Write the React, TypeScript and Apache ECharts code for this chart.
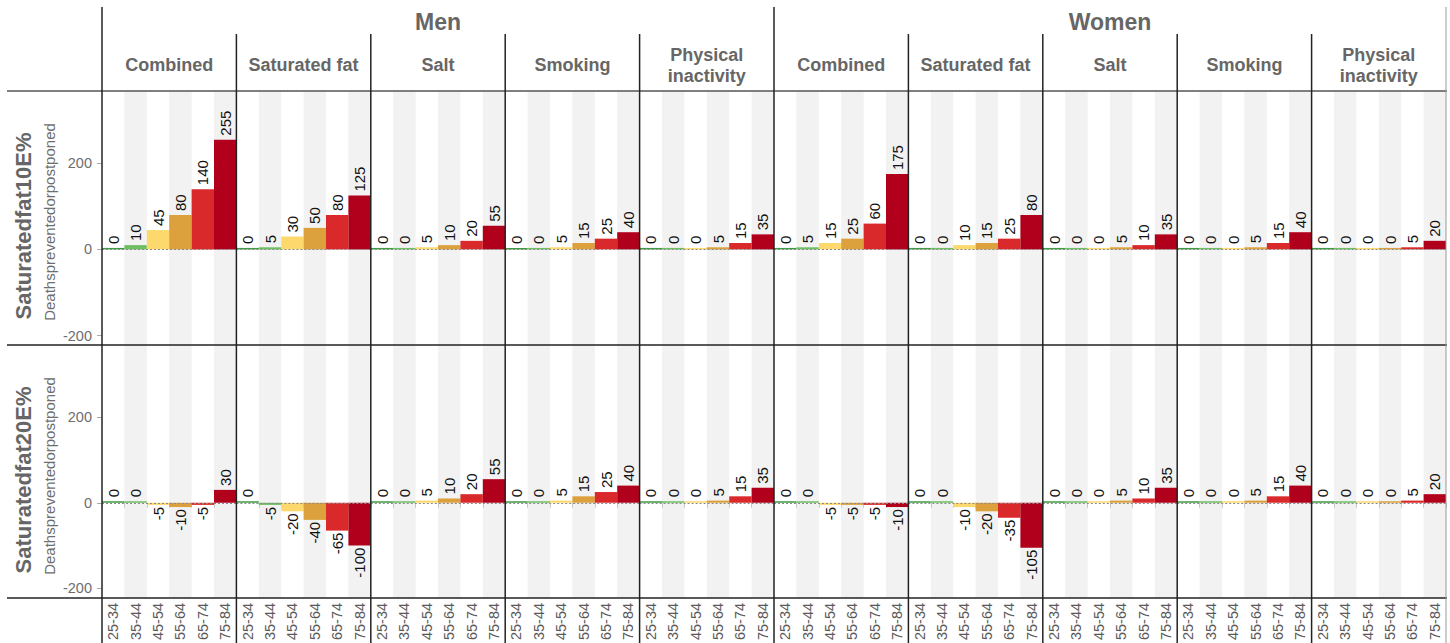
import React, { useEffect, useRef } from "react";
import * as echarts from "echarts";

const ages = ["25-34", "35-44", "45-54", "55-64", "65-74", "75-84"];
const sexes = ["Men", "Women"];
const factors = ["Combined", "Saturated fat", "Salt", "Smoking", "Physical\ninactivity"];
const scenarios = ["Saturatedfat10E%", "Saturatedfat20E%"];
const yAxisTitle = "Deathspreventedorpostponed";
const yTicks = [-200, 0, 200];
const ageColors = ["#3b9b40", "#6dbe60", "#fdd96d", "#dca13c", "#da292b", "#b1001c"];

// rows: factor (Combined, Saturated fat, Salt, Smoking, Physical inactivity), cols: age group
const fat10Men = [
  [0, 10, 45, 80, 140, 255],
  [0, 5, 30, 50, 80, 125],
  [0, 0, 5, 10, 20, 55],
  [0, 0, 5, 15, 25, 40],
  [0, 0, 0, 5, 15, 35],
];
const fat10Women = [
  [0, 5, 15, 25, 60, 175],
  [0, 0, 10, 15, 25, 80],
  [0, 0, 0, 5, 10, 35],
  [0, 0, 0, 5, 15, 40],
  [0, 0, 0, 0, 5, 20],
];
const fat20Men = [
  [0, 0, -5, -10, -5, 30],
  [0, -5, -20, -40, -65, -100],
  [0, 0, 5, 10, 20, 55],
  [0, 0, 5, 15, 25, 40],
  [0, 0, 0, 5, 15, 35],
];
const fat20Women = [
  [0, 0, -5, -5, -5, -10],
  [0, 0, -10, -20, -35, -105],
  [0, 0, 0, 5, 10, 35],
  [0, 0, 0, 5, 15, 40],
  [0, 0, 0, 0, 5, 20],
];

const FONT = "'Liberation Sans', Arial, Helvetica, sans-serif";

export default function App() {
  const ref = useRef<HTMLDivElement>(null);
  useEffect(() => {
    if (!ref.current) return;
    const chart = echarts.init(ref.current, undefined, { renderer: "svg" });

    const plotLeft = 102;
    const plotRight = 1446;
    const panelW = (plotRight - plotLeft) / 10;
    const rowTops = [91, 345];
    const rowHeights = [254, 253];
    const yMin = -222;
    const yMax = 368;

    const grids: any[] = [];
    const xAxes: any[] = [];
    const yAxes: any[] = [];
    const series: any[] = [];
    const graphics: any[] = [];

    const tables = [
      [fat10Men, fat10Women],
      [fat20Men, fat20Women],
    ];

    let idx = 0;
    for (let r = 0; r < 2; r++) {
      for (let c = 0; c < 10; c++) {
        const sex = c < 5 ? 0 : 1;
        const f = c % 5;
        const vals = tables[r][sex][f];
        grids.push({
          left: plotLeft + c * panelW,
          top: rowTops[r],
          width: panelW,
          height: rowHeights[r],
          containLabel: false,
        });
        xAxes.push({
          type: "category",
          gridIndex: idx,
          data: ages,
          boundaryGap: true,
          axisLine: { show: false },
          axisTick: {
            show: r === 1,
            length: 5,
            lineStyle: { color: "#c8c8c8", width: 1 },
          },
          axisLabel: {
            show: r === 1,
            rotate: 90,
            margin: 5,
            color: "#5a5a5a",
            fontSize: 14.5,
            fontFamily: FONT,
            interval: 0,
          },
          splitLine: { show: false },
          splitArea: {
            show: true,
            interval: 0,
            areaStyle: { color: ["rgba(255,255,255,0)", "#f2f2f2"] },
          },
        });
        yAxes.push({
          type: "value",
          gridIndex: idx,
          min: yMin,
          max: yMax,
          axisLine: { show: false },
          splitLine: { show: false },
          axisTick: {
            show: c === 0,
            length: 5,
            customValues: yTicks,
            lineStyle: { color: "#aaaaaa" },
          },
          axisLabel: {
            show: c === 0,
            customValues: yTicks,
            margin: 10,
            color: "#6e6e6e",
            fontSize: 14.5,
            fontFamily: FONT,
          },
        });
        series.push({
          type: "bar",
          xAxisIndex: idx,
          yAxisIndex: idx,
          barWidth: "100%",
          barCategoryGap: 0,
          barMinHeight: 1.5,
          data: vals.map((v, i) => ({
            value: v,
            itemStyle: { color: ageColors[i] },
            label: v < 0
              ? { position: "bottom", distance: 2, align: "right" }
              : { position: "top", distance: 4, align: "left" },
          })),
          label: {
            show: true,
            rotate: 90,
            verticalAlign: "middle",
            color: "#111",
            fontSize: 15,
            fontFamily: FONT,
            formatter: (p: any) => String(p.value),
          },
          markLine: {
            silent: true,
            symbol: "none",
            label: { show: false },
            lineStyle: { color: "#8a8a8a", type: [2, 2], width: 1 },
            data: [{ yAxis: 0 }],
            z: 5,
          },
        });
        idx++;
      }
    }

    const line = (x1: number, y1: number, x2: number, y2: number, color: string, width: number) => ({
      type: "line",
      silent: true,
      z: 100,
      shape: { x1, y1, x2, y2 },
      style: { stroke: color, lineWidth: width },
    });

    // horizontal rules
    graphics.push(line(7, 91, 1447, 91, "#555", 1.3));
    graphics.push(line(7, 345, 1447, 345, "#222", 1.5));
    graphics.push(line(7, 598, 1447, 598, "#222", 1.5));
    // vertical rules
    for (let c = 0; c <= 10; c++) {
      const x = plotLeft + c * panelW;
      if (c === 10) {
        graphics.push(line(x, 7, x, 643, "#999", 1));
      } else if (c === 0 || c === 5) {
        graphics.push(line(x, 7, x, 643, "#222", 1.5));
      } else {
        graphics.push(line(x, 34, x, 643, "#222", 1.5));
      }
    }

    // strip labels
    sexes.forEach((s, i) => {
      graphics.push({
        type: "text",
        x: plotLeft + (i * 5 + 2.5) * panelW,
        y: 22,
        silent: true,
        style: {
          text: s,
          align: "center",
          verticalAlign: "middle",
          fill: "#666",
          font: `bold 23px ${FONT}`,
        },
      });
    });
    for (let c = 0; c < 10; c++) {
      graphics.push({
        type: "text",
        x: plotLeft + (c + 0.5) * panelW,
        y: 65,
        silent: true,
        style: {
          text: factors[c % 5],
          align: "center",
          verticalAlign: "middle",
          fill: "#666",
          font: `bold 18px ${FONT}`,
          lineHeight: 21,
        },
      });
    }

    // row titles
    const titleY = [226, 480];
    const subY = [222, 476];
    scenarios.forEach((s, r) => {
      graphics.push({
        type: "text",
        x: 23,
        y: titleY[r],
        rotation: Math.PI / 2,
        silent: true,
        style: {
          text: s,
          align: "center",
          verticalAlign: "middle",
          fill: "#666",
          font: `bold 22px ${FONT}`,
        },
      });
      graphics.push({
        type: "text",
        x: 49,
        y: subY[r],
        rotation: Math.PI / 2,
        silent: true,
        style: {
          text: yAxisTitle,
          align: "center",
          verticalAlign: "middle",
          fill: "#6e6e6e",
          font: `15px ${FONT}`,
        },
      });
    });

    chart.setOption({
      animation: false,
      backgroundColor: "#ffffff",
      grid: grids,
      xAxis: xAxes,
      yAxis: yAxes,
      series,
      graphic: graphics,
    });

    return () => chart.dispose();
  }, []);

  return (
    <div
      ref={ref}
      style={{ position: "absolute", left: 0, top: 0, width: 1450, height: 643 }}
    />
  );
}
